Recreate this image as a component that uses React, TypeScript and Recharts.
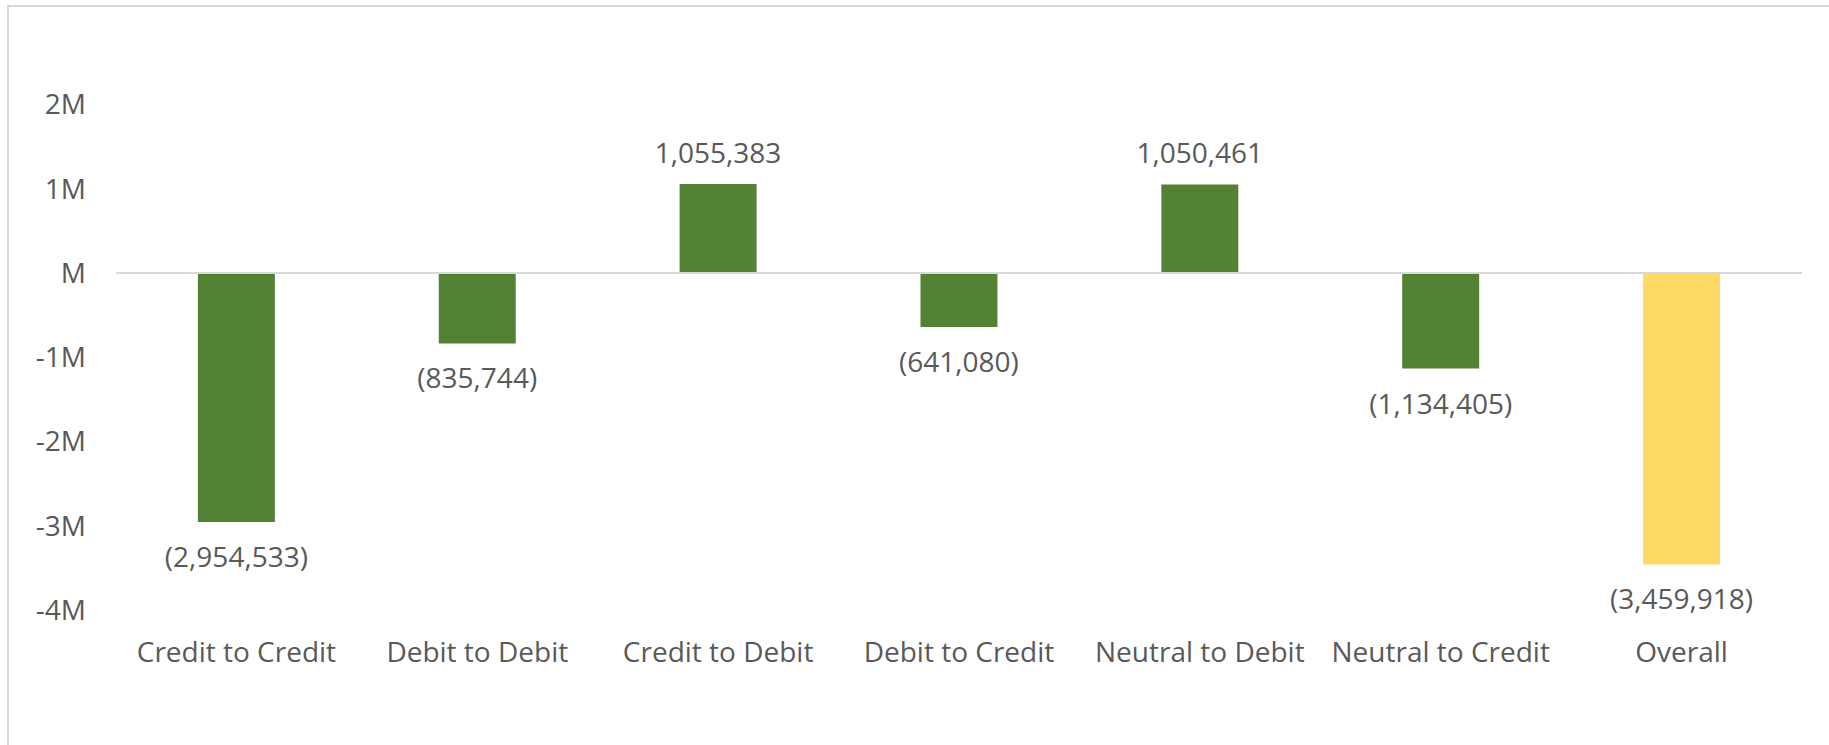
import { BarChart, Bar, XAxis, YAxis, ReferenceLine, Cell, LabelList } from "recharts"

const categories = [
  "Credit to Credit",
  "Debit to Debit",
  "Credit to Debit",
  "Debit to Credit",
  "Neutral to Debit",
  "Neutral to Credit",
  "Overall",
]
const values = [-2954533, -835744, 1055383, -641080, 1050461, -1134405, -3459918]
const yTicks = [-4000000, -3000000, -2000000, -1000000, 0, 1000000, 2000000]

const GREEN = "#548235"
const YELLOW = "#FFD966"
const TEXT = "#595959"
const FONT = "'Open Sans', sans-serif"

const data = categories.map((name, i) => ({ name, value: values[i] }))

const fmtTick = (v: number) => (v === 0 ? "M" : `${v / 1000000}M`)
const fmtValue = (v: number) => {
  const s = Math.abs(v).toLocaleString("en-US")
  return v < 0 ? `(${s})` : s
}

function ValueLabel(props: any) {
  const { x, y, width, height, value } = props
  const top = Math.min(y, y + height)
  const bottom = Math.max(y, y + height)
  const ty = value < 0 ? bottom + 45 : top - 21
  return (
    <text x={x + width / 2} y={ty} textAnchor="middle" fill={TEXT} fontSize={28} fontFamily={FONT}>
      {fmtValue(value)}
    </text>
  )
}

export default function App() {
  return (
    <div style={{ position: "absolute", left: 0, top: 0, width: 1829, height: 745, background: "#fff", overflow: "hidden" }}>
      <div
        style={{
          position: "absolute",
          left: 7,
          top: 5,
          width: 1900,
          height: 900,
          border: "2px solid #D9D9D9",
        }}
      />
      <div style={{ position: "absolute", left: 0, top: 0 }}>
        <BarChart
          width={1829}
          height={745}
          data={data}
          margin={{ top: 104.5, right: 27, bottom: 105, left: 0 }}
          barCategoryGap="34%"
        >
          <XAxis
            dataKey="name"
            height={30}
            axisLine={false}
            tickLine={false}
            tickSize={0}
            tickMargin={32}
            interval={0}
            tick={{ fill: TEXT, fontSize: 28, fontFamily: FONT }}
          />
          <YAxis
            width={116}
            domain={[-4000000, 2000000]}
            ticks={yTicks}
            tickFormatter={fmtTick}
            axisLine={false}
            tickLine={false}
            tickSize={0}
            tickMargin={30}
            tick={{ fill: TEXT, fontSize: 28, fontFamily: FONT }}
          />
          <ReferenceLine y={0} stroke="#D9D9D9" strokeWidth={2} />
          <Bar dataKey="value" isAnimationActive={false}>
            {data.map((d, i) => (
              <Cell key={d.name} fill={i === data.length - 1 ? YELLOW : GREEN} />
            ))}
            <LabelList dataKey="value" content={ValueLabel} />
          </Bar>
        </BarChart>
      </div>
    </div>
  )
}
